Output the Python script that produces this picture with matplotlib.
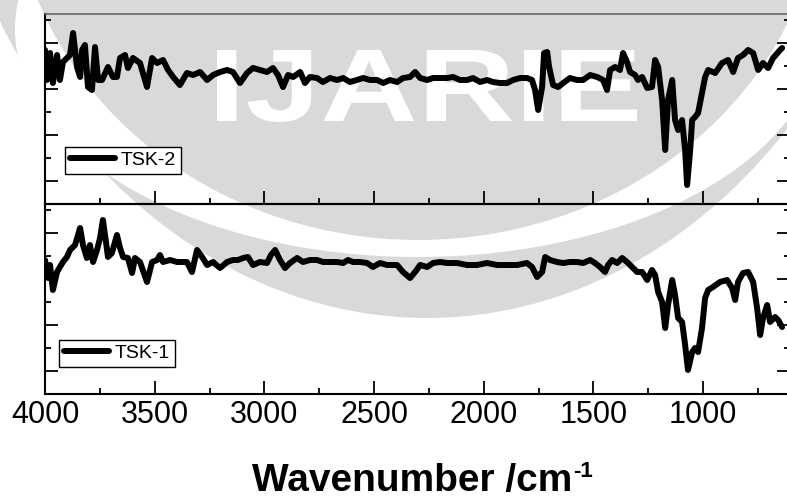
import matplotlib
matplotlib.use('Agg')
import matplotlib.pyplot as plt
from matplotlib.patches import Ellipse, PathPatch
from matplotlib.textpath import TextPath
from matplotlib.font_manager import FontProperties
from matplotlib.transforms import Affine2D
from matplotlib.ticker import MultipleLocator, FixedLocator

plt.rcParams['font.family'] = ['Liberation Sans', 'DejaVu Sans']

# ---------------- data (arbitrary transmittance units) ----------------
tsk2_wn = [4000, 3991, 3977, 3964, 3945, 3932, 3918, 3900, 3886, 3872,
           3854, 3840, 3831, 3818, 3804, 3786, 3772, 3758, 3740, 3713,
           3690, 3672, 3658, 3635, 3622, 3599, 3567, 3535, 3512, 3489,
           3462, 3439, 3416, 3385, 3353, 3325, 3293, 3261, 3234, 3202,
           3170, 3143, 3111, 3079, 3052, 3020, 2988, 2961, 2938, 2915,
           2892, 2869, 2837, 2815, 2792, 2760, 2733, 2701, 2669, 2641,
           2610, 2578, 2550, 2518, 2486, 2459, 2427, 2395, 2368, 2336,
           2313, 2290, 2258, 2231, 2199, 2167, 2140, 2108, 2076, 2049,
           2017, 1985, 1958, 1926, 1894, 1866, 1834, 1803, 1780, 1766,
           1752, 1734, 1725, 1711, 1702, 1684, 1661, 1638, 1607, 1575,
           1547, 1515, 1483, 1456, 1438, 1424, 1401, 1379, 1365, 1347,
           1333, 1310, 1297, 1278, 1255, 1233, 1219, 1205, 1187, 1173,
           1160, 1141, 1128, 1114, 1096, 1082, 1073, 1059, 1050, 1037,
           1023, 1005, 991, 977, 945, 914, 886, 863, 841, 818,
           795, 772, 749, 727, 704, 681, 649, 640]
tsk2_t = [154, 124, 151, 121, 149, 124, 142, 146, 149, 171,
          137, 127, 154, 159, 117, 114, 157, 124, 124, 137,
          127, 127, 146, 149, 136, 146, 141, 117, 146, 141,
          144, 134, 127, 119, 131, 129, 132, 124, 129, 132,
          134, 132, 121, 131, 136, 134, 132, 136, 129, 117,
          129, 127, 132, 121, 127, 126, 122, 126, 124, 126,
          122, 124, 126, 124, 124, 121, 124, 122, 126, 127,
          132, 126, 124, 126, 126, 126, 127, 124, 124, 126,
          122, 124, 122, 121, 121, 124, 126, 126, 124, 114,
          94, 117, 151, 152, 137, 119, 117, 121, 126, 124,
          124, 129, 127, 124, 114, 134, 137, 134, 151, 142,
          132, 129, 124, 127, 116, 117, 144, 137, 104, 54,
          104, 124, 84, 74, 84, 54, 19, 54, 84, 87,
          91, 111, 127, 134, 131, 141, 144, 132, 146, 149,
          154, 151, 134, 141, 136, 146, 154, 156]

tsk1_wn = [4000, 3986, 3977, 3964, 3945, 3932, 3918, 3900, 3886, 3863,
           3840, 3827, 3809, 3795, 3781, 3763, 3749, 3736, 3722, 3713,
           3695, 3672, 3658, 3644, 3622, 3603, 3590, 3567, 3535, 3512,
           3489, 3476, 3462, 3430, 3398, 3375, 3353, 3330, 3307, 3284,
           3261, 3234, 3202, 3170, 3143, 3120, 3097, 3075, 3052, 3020,
           2988, 2970, 2951, 2929, 2906, 2883, 2851, 2824, 2792, 2760,
           2733, 2701, 2669, 2641, 2619, 2596, 2564, 2532, 2505, 2473,
           2441, 2395, 2368, 2336, 2313, 2290, 2258, 2231, 2199, 2167,
           2122, 2076, 2031, 1985, 1939, 1894, 1848, 1803, 1780, 1757,
           1734, 1720, 1698, 1666, 1638, 1607, 1575, 1547, 1515, 1493,
           1470, 1447, 1433, 1415, 1392, 1369, 1347, 1324, 1301, 1278,
           1255, 1233, 1219, 1205, 1187, 1173, 1160, 1141, 1128, 1114,
           1096, 1082, 1069, 1050, 1037, 1023, 1005, 991, 977, 955,
           923, 891, 868, 854, 841, 818, 795, 772, 754, 740,
           727, 708, 695, 672, 658, 640]
tsk1_t = [134, 116, 129, 104, 122, 127, 132, 137, 144, 149,
          166, 149, 136, 149, 132, 144, 156, 174, 152, 137,
          141, 159, 146, 137, 136, 121, 136, 132, 112, 132,
          134, 139, 132, 134, 132, 132, 132, 122, 144, 137,
          129, 132, 126, 132, 134, 134, 136, 137, 129, 132,
          131, 139, 144, 134, 126, 131, 136, 132, 134, 134,
          132, 132, 132, 131, 134, 132, 132, 131, 127, 131,
          129, 129, 122, 116, 122, 129, 127, 131, 132, 131,
          131, 129, 129, 131, 129, 129, 129, 131, 127, 117,
          122, 137, 134, 132, 131, 132, 132, 131, 134, 131,
          127, 122, 129, 134, 131, 136, 132, 127, 122, 122,
          114, 124, 119, 102, 92, 66, 89, 114, 99, 76,
          72, 49, 24, 42, 46, 42, 66, 96, 104, 107,
          112, 114, 106, 94, 112, 121, 122, 112, 86, 59,
          76, 89, 72, 77, 74, 67]

x_ticks = [4000, 3500, 3000, 2500, 2000, 1500, 1000]
x_tick_labels = ['4000', '3500', '3000', '2500', '2000', '1500', '1000']
labels = ['TSK-2', 'TSK-1']

# ---------------- figure ----------------
W, H = 787, 500
fig = plt.figure(figsize=(W / 100, H / 100), dpi=100)

# watermark background
bg = fig.add_axes([0, 0, 1, 1], zorder=-10)
bg.set_xlim(0, W)
bg.set_ylim(H, 0)
bg.axis('off')
gray = '#d9d9d9'
bg.add_patch(Ellipse((427, -296), 998, 1228, color=gray, lw=0))
bg.add_patch(Ellipse((418, 29), 806, 456, color='white', lw=0))
bg.add_patch(Ellipse((418, -130), 812, 740, color=gray, lw=0))
tp = TextPath((0, 0), 'IJARIE', size=1,
              prop=FontProperties(family='Liberation Sans', weight='bold'))
ext = tp.get_extents()
tr = (Affine2D().translate(-ext.x0, -ext.y0)
      .scale(420 / ext.width, -72 / ext.height).translate(217, 122))
bg.add_patch(PathPatch(tr.transform_path(tp), color='white', lw=0))

left = 45 / W
width = 745 / W
ax_top = fig.add_axes([left, (H - 204) / H, width, 190 / H])
ax_bot = fig.add_axes([left, (H - 394) / H, width, 190 / H])

series = [(ax_top, tsk2_wn, tsk2_t, labels[0], (20 / 745, 30 / 190)),
          (ax_bot, tsk1_wn, tsk1_t, labels[1], (14 / 745, 27 / 190))]

for ax, wn, t, lab, anchor in series:
    ax.set_facecolor('none')
    ax.plot(wn, t, color='black', lw=4.3, solid_joinstyle='round',
            solid_capstyle='round', label=lab)
    ax.set_xlim(4000, 604)
    ax.set_ylim(0, 190)
    ax.xaxis.set_major_locator(FixedLocator(x_ticks))
    ax.xaxis.set_minor_locator(MultipleLocator(250))
    ax.yaxis.set_major_locator(FixedLocator([23, 69, 115, 161]))
    ax.yaxis.set_minor_locator(FixedLocator([0, 46, 92, 138, 184]))
    ax.tick_params(which='both', direction='in', top=False, bottom=True,
                   left=True, right=True, labelleft=False, width=1.3,
                   color='black')
    ax.tick_params(which='major', length=9.5)
    ax.tick_params(which='minor', length=4.5)
    for s in ax.spines.values():
        s.set_linewidth(1.5)
        s.set_color('black')
    leg = ax.legend(loc='lower left', bbox_to_anchor=anchor, frameon=True,
                    fancybox=False, edgecolor='black', framealpha=1,
                    fontsize=14, handlelength=2.3, handletextpad=0.3,
                    borderpad=0.25, borderaxespad=0)
    leg.get_frame().set_linewidth(1.0)

ax_top.spines['top'].set_color('#666666')
ax_top.spines['top'].set_linewidth(1.2)
ax_top.tick_params(labelbottom=False)
ax_bot.set_xticks(x_ticks)
ax_bot.set_xticklabels(x_tick_labels)
ax_bot.tick_params(axis='x', which='major', labelsize=22, pad=4)

# x-axis title with superscript
fig.text(572 / W, 1 / H, 'Wavenumber /cm', fontsize=28,
         fontweight='bold', ha='right', va='bottom')
fig.text(573 / W, (H - 477) / H, '-1', fontsize=16,
         fontweight='bold', ha='left', va='baseline')

fig.savefig('out.png', dpi=100)
